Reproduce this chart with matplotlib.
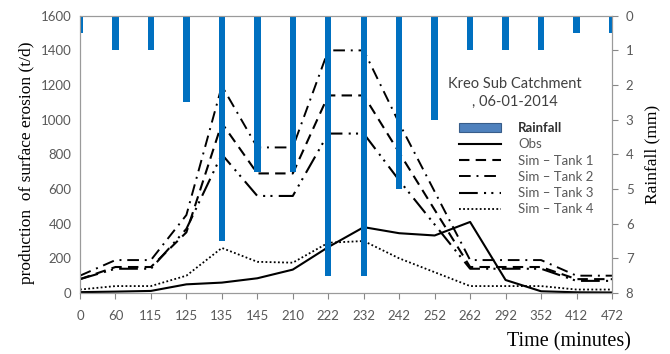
import numpy as np
import matplotlib.pyplot as plt
from matplotlib.patches import Patch
from matplotlib.lines import Line2D

# time steps (minutes), plotted as evenly spaced categories
times = ["0", "60", "115", "125", "135", "145", "210", "222", "232",
         "242", "252", "262", "292", "352", "412", "472"]

rainfall = [0.5, 1.0, 1.0, 2.5, 6.5, 4.5, 4.5, 7.5, 7.5, 5.0, 3.0, 1.0, 1.0, 1.0, 0.5, 0.5]
obs = [5, 8, 12, 50, 60, 85, 135, 265, 380, 345, 332, 410, 75, 10, 4, 3]
tank1 = [80, 150, 150, 350, 980, 690, 690, 1140, 1140, 810, 480, 150, 150, 150, 80, 80]
tank2 = [100, 190, 190, 450, 1195, 840, 840, 1400, 1400, 980, 585, 190, 190, 190, 100, 100]
tank3 = [80, 140, 140, 370, 800, 560, 560, 920, 920, 650, 395, 140, 140, 140, 70, 70]
tank4 = [20, 40, 40, 100, 260, 180, 175, 290, 300, 200, 120, 40, 40, 40, 20, 20]

gray = "#595959"
blue = "#0070C0"

styles = {
    "obs": dict(lw=1.5, ls="-"),
    "t1": dict(lw=1.5, ls=(0, (5, 3))),
    "t2": dict(lw=1.4, ls=(0, (6, 3, 1, 3))),
    "t3": dict(lw=1.5, ls=(0, (9, 3, 1, 2.5, 1, 3))),
    "t4": dict(lw=1.3, ls=(0, (1, 1.3))),
}

fig = plt.figure(figsize=(6.7, 3.54), dpi=100)
ax = fig.add_axes([0.1194, 0.1723, 0.794, 0.7833])
x = np.arange(len(times))

ax.plot(x, obs, color="black", **styles["obs"])
ax.plot(x, tank1, color="black", **styles["t1"])
ax.plot(x, tank2, color="black", **styles["t2"])
ax.plot(x, tank3, color="black", **styles["t3"])
ax.plot(x, tank4, color="black", **styles["t4"])

ax.set_xlim(0, len(times) - 1)
ax.set_ylim(0, 1600)
ax.set_yticks(range(0, 1601, 200))
ax.set_xticks(x)
ax.set_xticklabels(times)
ax.tick_params(axis="both", colors="#888888", labelcolor=gray, labelsize=9.5)
ax.tick_params(axis="y", length=0, pad=6)
ax.tick_params(axis="x", length=4, pad=8)
for s in ax.spines.values():
    s.set_color("#9a9a9a")
    s.set_linewidth(0.8)

for lbl in ax.get_xticklabels() + ax.get_yticklabels():
    lbl.set_family("Lato")

ax.set_ylabel("production  of surface erosion (t/d)", family="Liberation Serif",
              fontsize=12.5)
ax.yaxis.set_label_coords(-0.085, 0.47)
ax.set_xlabel("Time (minutes)", family="Liberation Serif", fontsize=14.5)
ax.xaxis.set_label_coords(0.92, -0.14)

ax2 = ax.twinx()
ax2.bar(x, rainfall, width=0.18, color=blue, clip_on=True)
ax2.set_ylim(8, 0)
ax2.set_yticks(range(0, 9))
ax2.tick_params(axis="y", colors="#888888", labelcolor=gray, labelsize=9.5, length=4, pad=6)
for lbl in ax2.get_yticklabels():
    lbl.set_family("Lato")
for s in ax2.spines.values():
    s.set_color("#9a9a9a")
    s.set_linewidth(0.8)
ax2.set_ylabel("Rainfall (mm)", family="Liberation Serif", fontsize=12.5, labelpad=8)

# legend title drawn as its own text, legend below it
ax2.text(0.818, 0.721, "Kreo Sub Catchment\n, 06-01-2014", transform=ax2.transAxes,
         ha="center", va="center", family="Lato", fontsize=10.5, color="#404040",
         linespacing=1.4)

handles = [Patch(facecolor="#4F81BD", edgecolor="#385D8A", lw=0.8)]
handles += [Line2D([], [], color="black", **styles[k]) for k in ["obs", "t1", "t2", "t3", "t4"]]
labels = ["Rainfall", "Obs", "Sim \u2013 Tank 1", "Sim \u2013 Tank 2",
          "Sim \u2013 Tank 3", "Sim \u2013 Tank 4"]
leg = ax2.legend(handles, labels, loc="upper left", bbox_to_anchor=(0.70, 0.64),
                 frameon=False, borderpad=0, prop={"family": "Lato", "size": 9.5},
                 handlelength=3.2, handleheight=0.6, labelspacing=0.32,
                 handletextpad=1.3)
for t in leg.get_texts():
    t.set_color(gray)
leg.get_texts()[0].set_weight("bold")
leg.get_texts()[0].set_color("#303030")

fig.savefig("out.png", dpi=100)
